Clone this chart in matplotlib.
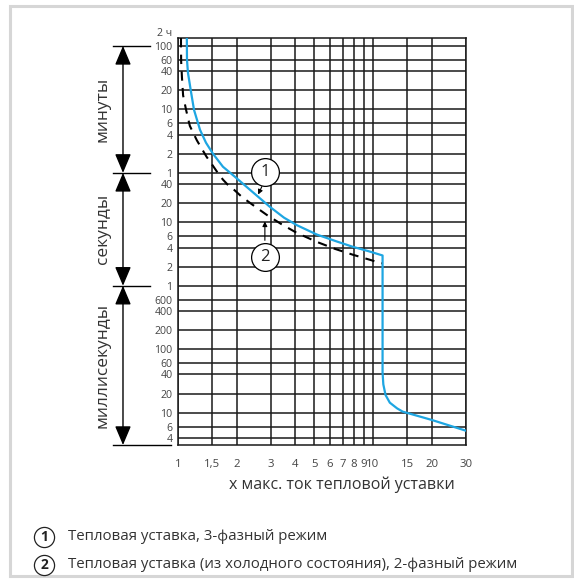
import matplotlib.pyplot as plt
from matplotlib.patches import Rectangle
from matplotlib.transforms import blended_transform_factory

plt.rcParams['font.family'] = ['Open Sans', 'DejaVu Sans']

######################################################################################################################
# DATI

# Кривая 1: тепловая уставка, 3-фазный режим (x = кратность тока, t = секунды)
curva1_x = [1.11, 1.112, 1.125, 1.166, 1.208, 1.297, 1.392, 1.512, 1.70, 1.96, 2.34, 2.96, 3.5, 4.07, 5.16, 6.5,
            7.9, 9.5, 11.2, 11.2, 11.3, 11.6, 12.2, 13.3, 14.2, 20, 30]
curva1_t = [8000, 3620, 2260, 1135, 591, 286, 179, 120, 75, 52, 32.5, 17.5, 11.8, 9.0, 6.4, 5.0,
            4.1, 3.5, 3.0, 0.043, 0.028, 0.019, 0.0144, 0.0117, 0.0104, 0.0077, 0.0052]

# Кривая 2: тепловая уставка (из холодного состояния), 2-фазный режим
curva2_x = [1.036, 1.036, 1.038, 1.048, 1.062, 1.10, 1.15, 1.25, 1.40, 1.50, 1.6, 1.7, 1.8, 1.95, 2.1, 2.3, 2.6,
            2.86, 3.4, 4.07, 5.16, 6.4, 7.89, 9.5, 11.1]
curva2_t = [8000, 5600, 3400, 1900, 1000, 590, 330, 195, 108, 80, 60, 47, 39, 32, 26, 21, 16,
            13, 9.3, 6.8, 4.9, 3.8, 3.08, 2.6, 2.25]

# Tick asse x
tick_x = [1, 1.5, 2, 3, 4, 5, 6, 7, 8, 9, 10, 15, 20, 30]
etichette_x = ['1', '1,5', '2', '3', '4', '5', '6', '7', '8', '9', '10', '15', '20', '30']

# Tick asse y (in secondi)
tick_y = [6000, 3600, 2400, 1200, 600, 360, 240, 120, 60,
          40, 20, 10, 6, 4, 2, 1,
          0.6, 0.4, 0.2, 0.1, 0.06, 0.04, 0.02, 0.01, 0.006, 0.004]
etichette_y = ['100', '60', '40', '20', '10', '6', '4', '2', '1',
               '40', '20', '10', '6', '4', '2', '1',
               '600', '400', '200', '100', '60', '40', '20', '10', '6', '4']

# Intervalli delle unità di misura (limiti in secondi)
unita = ['минуты', 'секунды', 'миллисекунды']
limiti_unita = [6000, 60, 1, 0.0031]

legenda = ['Тепловая уставка, 3-фазный режим',
           'Тепловая уставка (из холодного состояния), 2-фазный режим']

COLORE_BLU = '#1ea6e2'
COLORE_GRIGLIA = '#1a1a1a'
COLORE_TESTO = '#333333'

######################################################################################################################
# GRAFICO

fig = plt.figure(figsize=(5.74, 5.80), dpi=100)
ax = fig.add_axes([178 / 574, 1 - 445 / 580, 288 / 574, 407 / 580])

ax.set_xscale('log')
ax.set_yscale('log')
ax.set_xlim(1, 30)
ax.set_ylim(0.0031, 8000)

# Griglia
for x in tick_x:
    ax.axvline(x, color=COLORE_GRIGLIA, lw=1.1, zorder=1)
for y in tick_y:
    ax.axhline(y, color=COLORE_GRIGLIA, lw=1.1, zorder=1)
for s in ax.spines.values():
    s.set_color(COLORE_GRIGLIA)
    s.set_linewidth(1.1)

ax.set_xticks(tick_x)
ax.set_xticklabels(etichette_x)
ax.set_yticks(tick_y)
ax.set_yticklabels(etichette_y)
ax.minorticks_off()
ax.tick_params(length=0, labelsize=7.6, labelcolor='#444444')
ax.tick_params(axis='x', labelsize=8.2, pad=10)
ax.tick_params(axis='y', pad=4)

# Curve
ax.plot(curva1_x, curva1_t, color=COLORE_BLU, lw=1.6, zorder=3)
ax.plot(curva2_x, curva2_t, color='black', lw=1.5, dashes=(4.5, 3.5), zorder=3)

# Richiami 1 e 2
ax.annotate('', xy=(2.54, 25), xytext=(2.73, 40),
            arrowprops=dict(arrowstyle='-|>', color='black', lw=0.8, mutation_scale=7), zorder=4)
ax.annotate('', xy=(2.79, 11.4), xytext=(2.79, 4.7),
            arrowprops=dict(arrowstyle='-|>', color='black', lw=0.8, mutation_scale=7), zorder=4)
for num, (cx, cy) in enumerate([(2.79, 62), (2.79, 2.86)], start=1):
    ax.plot(cx, cy, 'o', ms=20, mfc='white', mec='black', mew=0.9, zorder=5)
    ax.text(cx, cy, str(num), ha='center', va='center', fontsize=12, color='#222222', zorder=6)

# Etichetta "2 ч"
tr = blended_transform_factory(ax.transAxes, ax.transData)
ax.text(-0.02, 9300, '2 ч', transform=tr, ha='right', va='center', fontsize=7.6,
        color='#444444', clip_on=False)

# Quote delle unità di misura
for i, lim in enumerate(limiti_unita):
    fine = -0.025 if i == len(limiti_unita) - 1 else -0.097
    ax.plot([-0.226, fine], [lim, lim], color='black', lw=1.0, transform=tr, clip_on=False)
for i, nome in enumerate(unita):
    alto, basso = limiti_unita[i], limiti_unita[i + 1]
    ax.annotate('', xy=(-0.191, alto), xytext=(-0.191, basso), xycoords=tr, textcoords=tr,
                arrowprops=dict(arrowstyle='<|-|>,head_length=0.9,head_width=0.38', color='black',
                                lw=1.0, mutation_scale=13, shrinkA=0, shrinkB=0))
    centro = (alto * basso) ** 0.5
    ax.text(-0.262, centro, nome, transform=tr, rotation=90, ha='center', va='center',
            fontsize=12.5, color=COLORE_TESTO)

# Titolo asse x
fig.text(342 / 574, 1 - 485 / 580, 'x макс. ток тепловой уставки', ha='center', va='center',
         fontsize=11.5, color=COLORE_TESTO)

# Legenda
for num, (testo, ypx) in enumerate(zip(legenda, [537, 565]), start=1):
    fig.lines.append(plt.Line2D([44 / 574], [1 - ypx / 580], marker='o', ms=14.5, mfc='white', mec='#222222',
                                mew=0.9, transform=fig.transFigure))
    fig.text(44 / 574, 1 - ypx / 580, str(num), ha='center', va='center', fontsize=10,
             fontweight='bold', color='#222222')
    fig.text(68 / 574, 1 - ypx / 580, testo, ha='left', va='center', fontsize=10.8, color=COLORE_TESTO)

# Cornice
fig.patches.append(Rectangle((9.5 / 574, 4.5 / 580), 562 / 574, 570 / 580, transform=fig.transFigure,
                             fill=False, edgecolor='#d6d6d6', lw=2.2))

fig.savefig('out.png', dpi=100, facecolor='white')
